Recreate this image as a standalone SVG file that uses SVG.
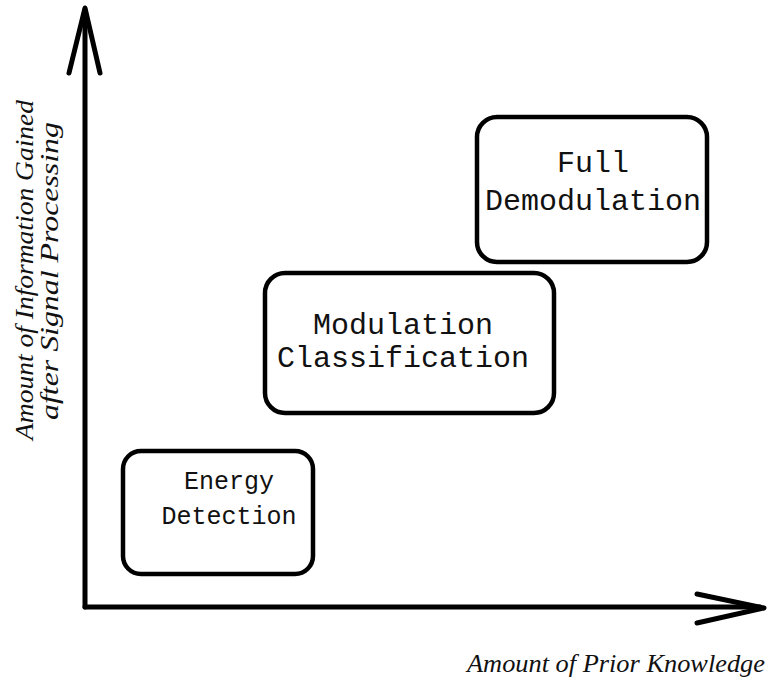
<svg xmlns="http://www.w3.org/2000/svg" width="772" height="686" viewBox="0 0 772 686">
<style>
.box{fill:#fff;stroke:#000;stroke-width:4.5}
.lbl{font-family:"Liberation Mono","Courier New",monospace;fill:#111;text-anchor:middle}
.ax{font-family:"Liberation Serif","Times New Roman",serif;font-style:italic;font-size:26px;fill:#111;text-anchor:middle}
.axis{stroke:#000;stroke-width:5;fill:none;stroke-linecap:round;stroke-linejoin:round}
</style>
<rect width="772" height="686" fill="#fff"/>
<g id="connectors">
<path class="axis" d="M85,607 L85,10"/>
<path class="axis" d="M69,73 L85,8 L100,73" stroke-width="6"/>
<path class="axis" d="M85,607 L760,607"/>
<path class="axis" d="M697,594 L764,608 L697,623" stroke-width="6"/>
</g>
<g id="y-label">
<text class="ax" transform="translate(33,270) rotate(-90)" textLength="340" lengthAdjust="spacingAndGlyphs">Amount of Information Gained</text>
<text class="ax" transform="translate(58,271) rotate(-90)" textLength="298" lengthAdjust="spacingAndGlyphs">after Signal Processing</text>
</g>
<g id="x-label">
<text class="ax" x="616" y="672" textLength="298" lengthAdjust="spacingAndGlyphs">Amount of Prior Knowledge</text>
</g>
<g id="energy-detection">
<rect class="box" x="123" y="451" width="190" height="123" rx="18"/>
<text class="lbl" x="229" y="489" font-size="25">Energy</text>
<text class="lbl" x="229" y="524" font-size="25">Detection</text>
</g>
<g id="modulation-classification">
<rect class="box" x="265" y="273" width="289" height="140" rx="20"/>
<text class="lbl" x="403" y="334" font-size="30">Modulation</text>
<text class="lbl" x="403" y="367" font-size="30">Classification</text>
</g>
<g id="full-demodulation">
<rect class="box" x="477" y="117" width="230" height="145" rx="20"/>
<text class="lbl" x="593" y="172" font-size="30">Full</text>
<text class="lbl" x="593" y="210" font-size="30">Demodulation</text>
</g>
</svg>
